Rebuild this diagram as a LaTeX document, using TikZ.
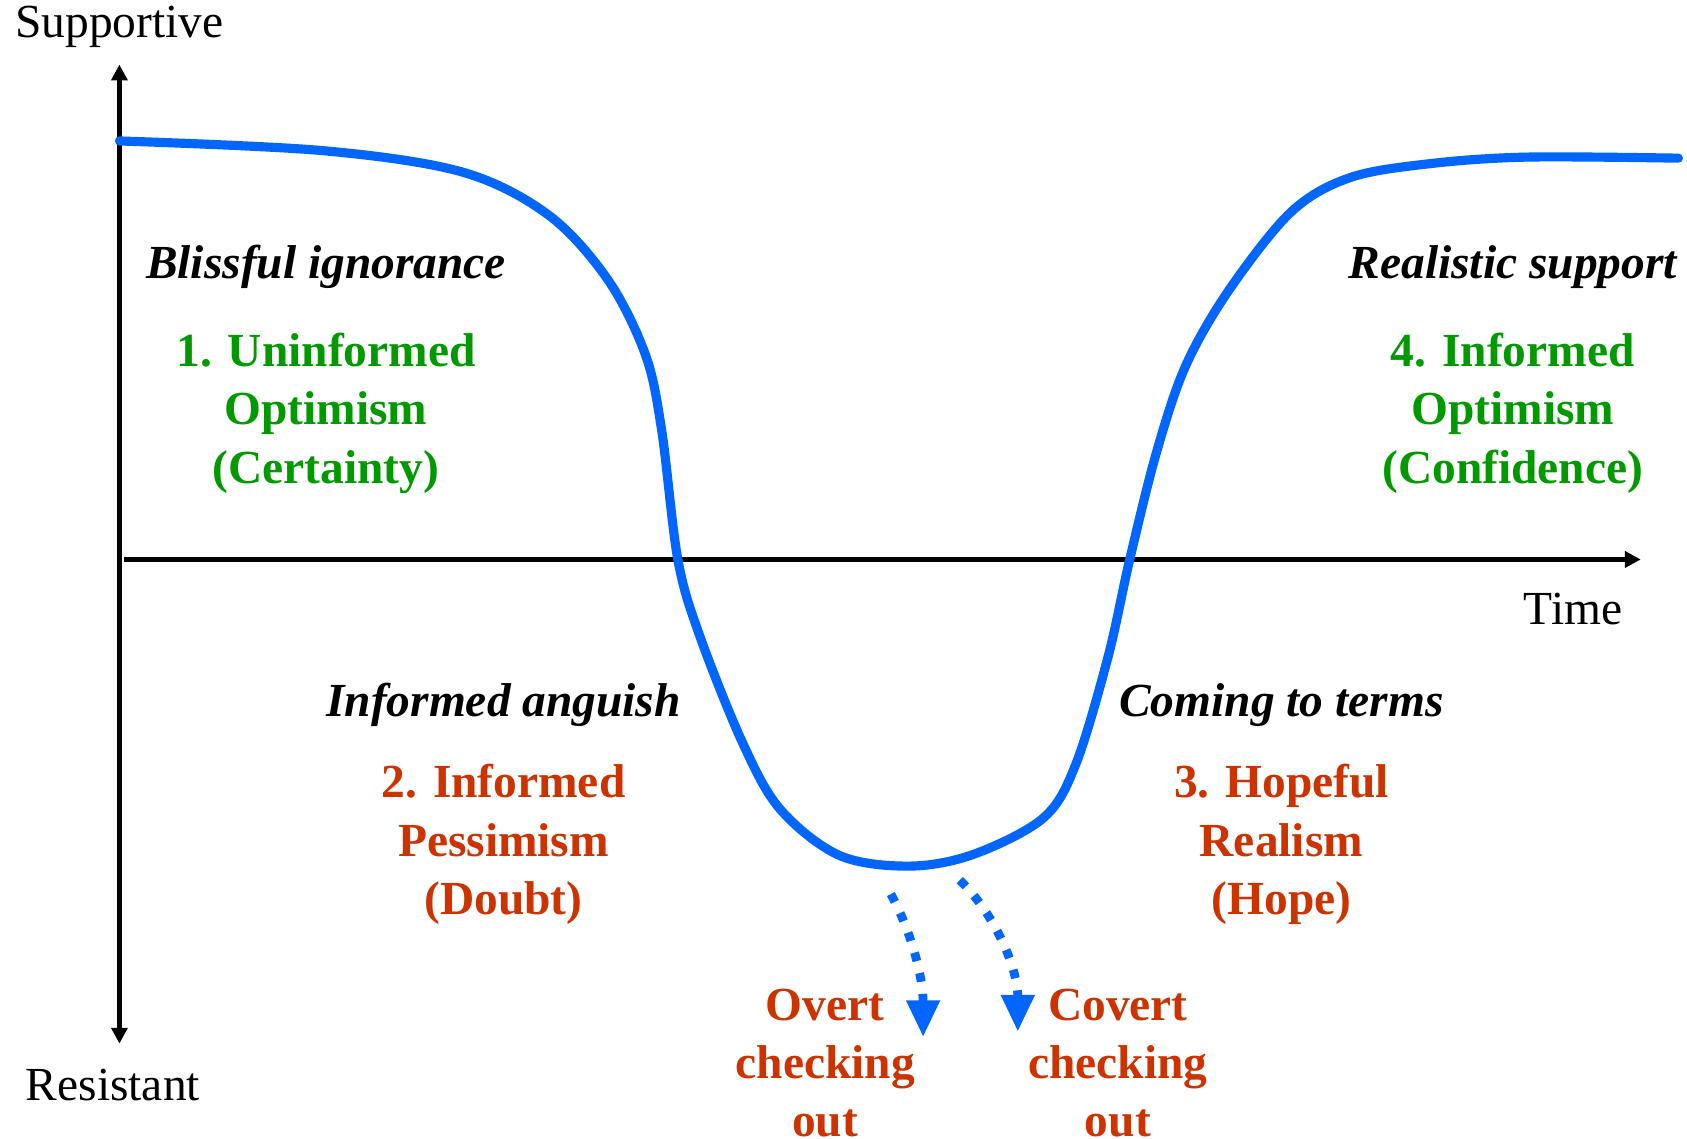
\documentclass[tikz,border=0pt]{standalone}
\usepackage{fontspec}
\setmainfont{Liberation Serif}
\usepackage{tikz}
\usetikzlibrary{arrows.meta}

\definecolor{curveblue}{RGB}{0,102,255}
\definecolor{phasegreen}{RGB}{0,153,0}
\definecolor{phasered}{RGB}{204,51,0}

\tikzset{
    axisline/.style={line width=1.2pt, -{Triangle[width=4.5pt, length=4.5pt]}},
    headline/.style={font=\fontsize{13.5}{16.6}\selectfont\bfseries\itshape, inner sep=0pt},
    greenlabel/.style={font=\fontsize{13.5}{16.6}\selectfont\bfseries, text=phasegreen, align=center, inner sep=0pt},
    redlabel/.style={font=\fontsize{13.5}{16.6}\selectfont\bfseries, text=phasered, align=center, inner sep=0pt},
    axislabel/.style={font=\fontsize{13.5}{16.6}\selectfont, inner sep=0pt},
    checkout/.style={curveblue, line width=2.5pt, dash pattern=on 2.5pt off 3.5pt,
        -{Triangle[width=9pt, length=10.5pt]}}
}

\begin{document}
\begin{tikzpicture}[x=0.1076mm, y=-0.1076mm]
            \useasboundingbox (0,0) rectangle (1568,1058);

            \coordinate (origin) at (111,520);
            \coordinate (ytop) at (111,60);
            \coordinate (ybot) at (111,970);
            \coordinate (xend) at (1525,520);

            \draw[axisline] (origin) -- (ytop);
            \draw[axisline] (origin) -- (ybot);
            \draw[axisline] (115,520) -- (xend);

            \draw[color=curveblue, line width=2.6pt, line cap=round, smooth, tension=0.55]
                plot coordinates {(111,131) (300,140) (430,160) (510,200) (565,260) (600,330)
                (615,400) (630,520) (650,590) (690,690) (725,752) (780,795) (845,805)
                (905,794) (970,760) (1000,710) (1030,610) (1050,520) (1075,420)
                (1102,340) (1142,270) (1200,197) (1255,165) (1330,152) (1420,146) (1560,147)};

            \node[axislabel] (supp) at (111,25) {Supportive};
            \node[axislabel] (resist) at (105,1008) {Resistant};
            \node[axislabel] (time) at (1462,566) {Time};

            \node[headline] (bliss) at (303,248) {Blissful ignorance};
            \node[greenlabel] (phase1) at (303,384) {1. Uninformed\\Optimism\\(Certainty)};
            \node[headline] (real) at (1406,248) {Realistic support};
            \node[greenlabel] (phase4) at (1406,384) {4. Informed\\Optimism\\(Confidence)};
            \node[headline] (anguish) at (468,655) {Informed anguish};
            \node[redlabel] (phase2) at (468,785) {2. Informed\\Pessimism\\(Doubt)};
            \node[headline] (terms) at (1191,655) {Coming to terms};
            \node[redlabel] (phase3) at (1191,785) {3. Hopeful\\Realism\\(Hope)};

            \node[redlabel] (overt) at (767,988) {Overt\\checking\\out};
            \node[redlabel] (covert) at (1039,988) {Covert\\checking\\out};

            \coordinate (overtstart) at (828,831);
            \coordinate (overttip) at (858,964);
            \coordinate (covertstart) at (892,818);
            \coordinate (coverttip) at (946,959);
            \draw[checkout] (overtstart) .. controls (848,868) and (858,910) .. (overttip);
            \draw[checkout] (covertstart) .. controls (925,850) and (946,900) .. (coverttip);
        \end{tikzpicture}
\end{document}
